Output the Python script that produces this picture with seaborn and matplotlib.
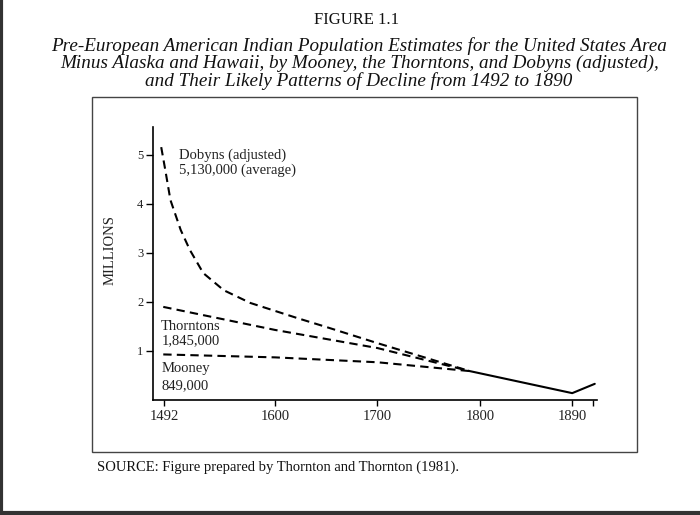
import pandas as pd
import seaborn as sns
from matplotlib import pyplot as plt
from matplotlib.lines import Line2D
from matplotlib.patches import Rectangle

# values (millions)
dobyns_years = [1489, 1493, 1498, 1508, 1517, 1530, 1550, 1576, 1622, 1650, 1700, 1790]
dobyns_pop = [5.16, 4.69, 4.08, 3.47, 3.06, 2.59, 2.24, 1.98, 1.67, 1.49, 1.16, 0.59]
thornton_years = [1491, 1600, 1700, 1790]
thornton_pop = [1.9, 1.43, 1.06, 0.59]
mooney_years = [1491, 1600, 1700, 1790]
mooney_pop = [0.93, 0.87, 0.77, 0.59]
decline_years = [1790, 1890, 1912]
decline_pop = [0.59, 0.14, 0.33]

x_ticks = [1492, 1600, 1700, 1800, 1890]
x_minor_ticks = [1910]
y_ticks = [1, 2, 3, 4, 5]

sns.set_theme(style = 'white')
plt.rcParams['font.family'] = ['Liberation Serif', 'DejaVu Serif']

fig = plt.figure(figsize = (7, 5.15), dpi = 100)
ax = fig.add_axes([0.2186, 0.2233, 0.634, 0.530])

dash_kw = dict(color = 'black', linewidth = 1.5, dashes = (4, 2.5))
sns.lineplot(pd.DataFrame({'year': dobyns_years, 'pop': dobyns_pop}),
             x = 'year', y = 'pop', ax = ax, **dash_kw)
sns.lineplot(pd.DataFrame({'year': thornton_years, 'pop': thornton_pop}),
             x = 'year', y = 'pop', ax = ax, **dash_kw)
sns.lineplot(pd.DataFrame({'year': mooney_years, 'pop': mooney_pop}),
             x = 'year', y = 'pop', ax = ax, **dash_kw)
sns.lineplot(pd.DataFrame({'year': decline_years, 'pop': decline_pop}),
             x = 'year', y = 'pop', ax = ax, color = 'black', linewidth = 1.5)

ax.set_xlim(1481, 1914)
ax.set_ylim(0, 5.57)
ax.set_xticks(x_ticks)
ax.set_xticks(x_minor_ticks, minor = True)
ax.set_yticks(y_ticks)
ax.tick_params(axis = 'both', which = 'both', direction = 'out', width = 1,
               color = 'black', labelcolor = '#222222',
               bottom = True, left = True)
ax.tick_params(axis = 'x', labelsize = 10.5, pad = 3, length = 4)
ax.tick_params(axis = 'x', which = 'minor', length = 4)
ax.tick_params(axis = 'y', labelsize = 9, pad = 2, length = 5)
for side in ['top', 'right']:
    ax.spines[side].set_visible(False)
for side in ['left', 'bottom']:
    ax.spines[side].set_color('black')
    ax.spines[side].set_linewidth(1.2)

ax.set_xlabel('')
ax.set_ylabel('MILLIONS', fontsize = 10.5, color = '#222222')
ax.yaxis.set_label_coords(-0.081, 0.55)

label_kw = dict(fontsize = 10.5, color = '#222222', va = 'center', ha = 'left')
ax.text(1506, 5.0, 'Dobyns (adjusted)', **label_kw)
ax.text(1506, 4.69, '5,130,000 (average)', **label_kw)
ax.text(1489, 1.51, 'Thorntons', **label_kw)
ax.text(1489, 1.22, '1,845,000', **label_kw)
ax.text(1489, 0.65, 'Mooney', **label_kw)
ax.text(1489, 0.29, '849,000', **label_kw)

# titles and source line
fig.text(0.51, 0.961, 'FIGURE 1.1', ha = 'center', va = 'center',
         fontsize = 12, color = '#111111')
fig.text(0.513, 0.877,
         'Pre-European American Indian Population Estimates for the United States Area\n'
         'Minus Alaska and Hawaii, by Mooney, the Thorntons, and Dobyns (adjusted),\n'
         'and Their Likely Patterns of Decline from 1492 to 1890',
         ha = 'center', va = 'center', fontsize = 13.8, style = 'italic',
         color = '#111111', linespacing = 0.98)
fig.text(0.139, 0.093, 'SOURCE: Figure prepared by Thornton and Thornton (1981).',
         ha = 'left', va = 'center', fontsize = 10.5, color = '#111111')

# frame around the plot and page edges
fig.add_artist(Rectangle((0.131, 0.1223), 0.779, 0.689, transform = fig.transFigure,
                         fill = False, edgecolor = '#444444', linewidth = 1))
fig.add_artist(Line2D([0.002, 0.002], [0, 1], transform = fig.transFigure,
                      color = '#333333', linewidth = 3))
fig.add_artist(Line2D([0, 1], [0.004, 0.004], transform = fig.transFigure,
                      color = '#333333', linewidth = 3))

fig.savefig('out.png', dpi = 100)
plt.close()
